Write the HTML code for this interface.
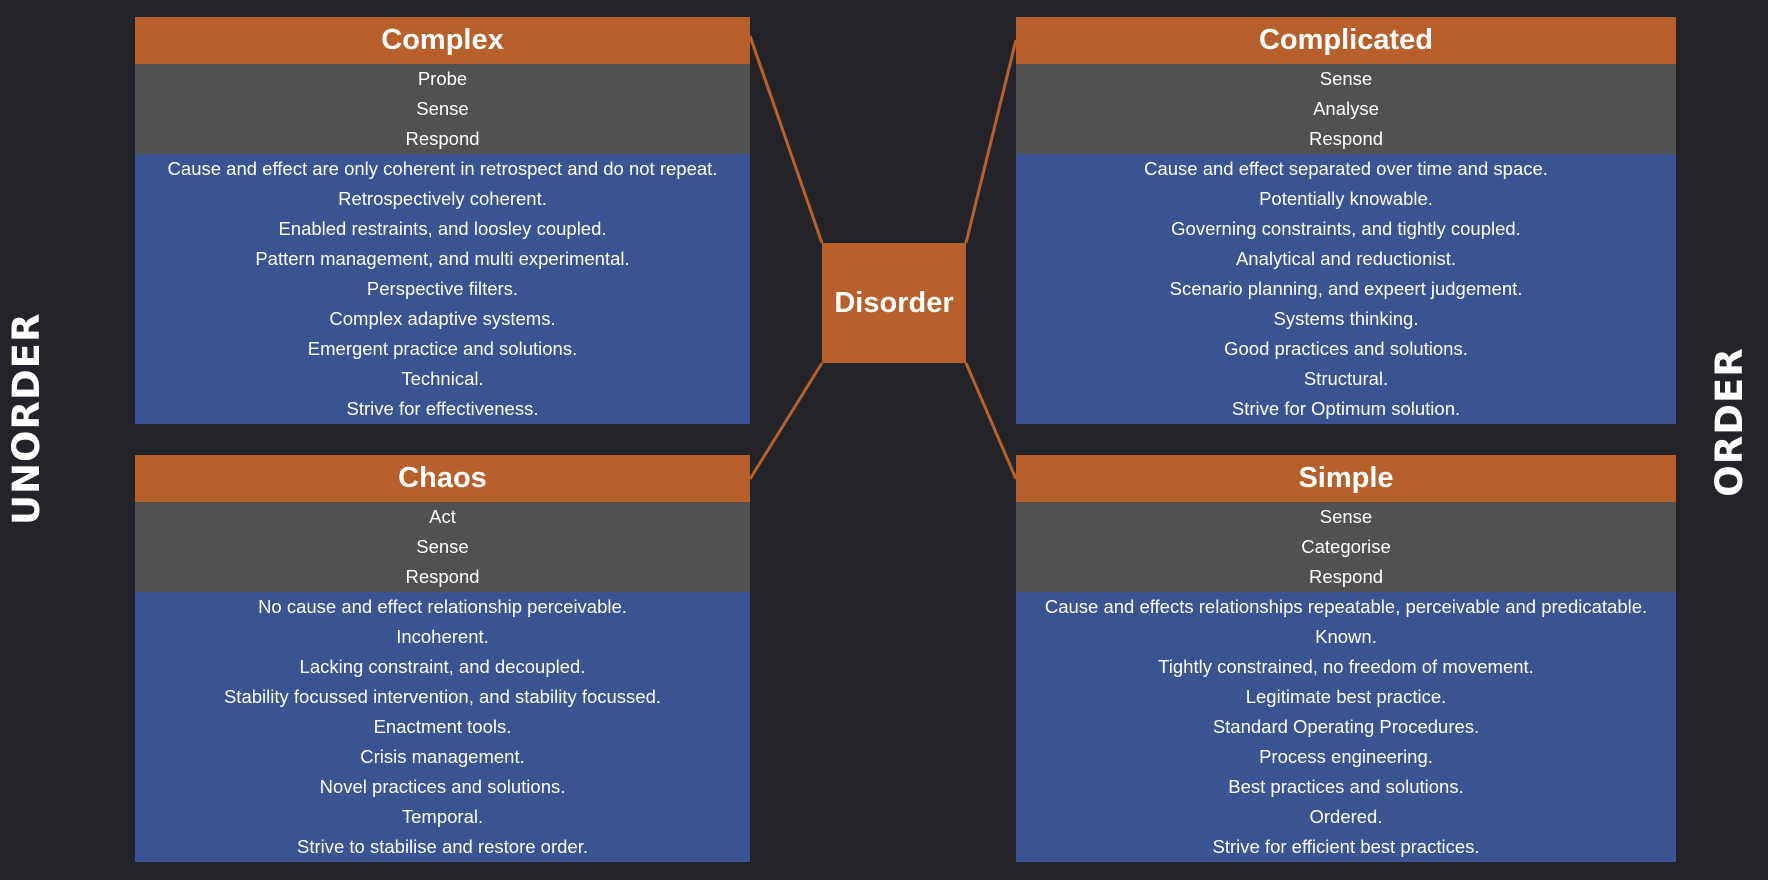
<!DOCTYPE html>
<html><head><meta charset="utf-8"><style>
body{margin:0;width:1768px;height:880px;background:#222429;position:relative;overflow:hidden;font-family:"Liberation Sans",sans-serif;color:#fff}
.box{position:absolute}
.h{background:#b8602b;height:47px;line-height:47px;text-align:center;font-weight:bold;font-size:29px}
.g{background:#515151;height:90px;padding-top:0}
.b{background:#385492;height:270px}
.r{height:30px;line-height:30px;text-align:center;font-size:18.5px;white-space:nowrap}
.side{position:absolute;font-family:"DejaVu Sans",sans-serif;font-weight:bold;font-size:37px;transform:rotate(-90deg);transform-origin:center;white-space:nowrap;letter-spacing:1px}
#dis{position:absolute;left:822px;top:243px;width:144px;height:120px;background:#b8602b;font-weight:bold;font-size:29px;text-align:center;line-height:120px}
</style></head><body>
<svg width="1768" height="880" style="position:absolute;left:0;top:0">
<g stroke="#b8602b" stroke-width="3">
<line x1="750" y1="36" x2="822" y2="243"/>
<line x1="1016" y1="40" x2="966" y2="243"/>
<line x1="750" y1="479" x2="822" y2="363"/>
<line x1="1016" y1="479" x2="966" y2="363"/>
</g></svg>

<div class="box" style="left:135px;top:17px;width:615px">
<div class="h">Complex</div>
<div class="g"><div class="r">Probe</div><div class="r">Sense</div><div class="r">Respond</div></div>
<div class="b">
<div class="r">Cause and effect are only coherent in retrospect and do not repeat.</div>
<div class="r">Retrospectively coherent.</div>
<div class="r">Enabled restraints, and loosley coupled.</div>
<div class="r">Pattern management, and multi experimental.</div>
<div class="r">Perspective filters.</div>
<div class="r">Complex adaptive systems.</div>
<div class="r">Emergent practice and solutions.</div>
<div class="r">Technical.</div>
<div class="r">Strive for effectiveness.</div>
</div></div>

<div class="box" style="left:1016px;top:17px;width:660px">
<div class="h">Complicated</div>
<div class="g"><div class="r">Sense</div><div class="r">Analyse</div><div class="r">Respond</div></div>
<div class="b">
<div class="r">Cause and effect separated over time and space.</div>
<div class="r">Potentially knowable.</div>
<div class="r">Governing constraints, and tightly coupled.</div>
<div class="r">Analytical and reductionist.</div>
<div class="r">Scenario planning, and expeert judgement.</div>
<div class="r">Systems thinking.</div>
<div class="r">Good practices and solutions.</div>
<div class="r">Structural.</div>
<div class="r">Strive for Optimum solution.</div>
</div></div>

<div class="box" style="left:135px;top:455px;width:615px">
<div class="h">Chaos</div>
<div class="g"><div class="r">Act</div><div class="r">Sense</div><div class="r">Respond</div></div>
<div class="b">
<div class="r">No cause and effect relationship perceivable.</div>
<div class="r">Incoherent.</div>
<div class="r">Lacking constraint, and decoupled.</div>
<div class="r">Stability focussed intervention, and stability focussed.</div>
<div class="r">Enactment tools.</div>
<div class="r">Crisis management.</div>
<div class="r">Novel practices and solutions.</div>
<div class="r">Temporal.</div>
<div class="r">Strive to stabilise and restore order.</div>
</div></div>

<div class="box" style="left:1016px;top:455px;width:660px">
<div class="h">Simple</div>
<div class="g"><div class="r">Sense</div><div class="r">Categorise</div><div class="r">Respond</div></div>
<div class="b">
<div class="r">Cause and effects relationships repeatable, perceivable and predicatable.</div>
<div class="r">Known.</div>
<div class="r">Tightly constrained, no freedom of movement.</div>
<div class="r">Legitimate best practice.</div>
<div class="r">Standard Operating Procedures.</div>
<div class="r">Process engineering.</div>
<div class="r">Best practices and solutions.</div>
<div class="r">Ordered.</div>
<div class="r">Strive for efficient best practices.</div>
</div></div>

<div id="dis">Disorder</div>
<div class="side" style="left:-73px;top:400px;width:200px;height:50px;line-height:50px;text-align:center">UNORDER</div>
<div class="side" style="left:1655px;top:397px;width:150px;height:50px;line-height:50px;text-align:center">ORDER</div>
</body></html>
